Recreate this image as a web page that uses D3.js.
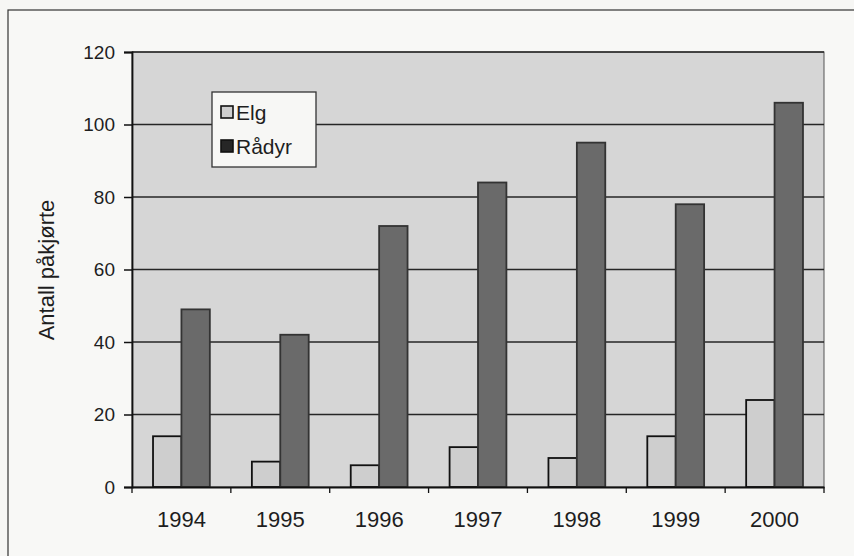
<!DOCTYPE html>
<html>
<head>
<meta charset="utf-8">
<script src="https://cdn.jsdelivr.net/npm/d3@7"></script>
<style>
  body { margin: 0; background: #f6f6f4; }
  svg { display: block; }
  text { font-family: "Liberation Sans", Arial, sans-serif; fill: #1e1e1e; }
</style>
</head>
<body>
<div id="chart"></div>
<script>
// Chart data
const years = ["1994", "1995", "1996", "1997", "1998", "1999", "2000"];
const series = ["Elg", "Rådyr"];
const elg = [14, 7, 6, 11, 8, 14, 24];
const radyr = [49, 42, 72, 84, 95, 78, 106];
const yTicks = [0, 20, 40, 60, 80, 100, 120];

const width = 854, height = 556;
const plot = { left: 132, right: 824, top: 52, bottom: 487 };

const svg = d3.select("#chart").append("svg")
    .attr("width", width)
    .attr("height", height);

// outer frame
svg.append("rect")
    .attr("x", 8).attr("y", 10)
    .attr("width", 852).attr("height", 560)
    .attr("fill", "#f8f8f6")
    .attr("stroke", "#333")
    .attr("stroke-width", 1.2);

const x0 = d3.scaleBand()
    .domain(years)
    .range([plot.left, plot.right]);

const x1 = d3.scaleBand()
    .domain(series)
    .range([0, x0.bandwidth()])
    .paddingOuter(0.74);

const y = d3.scaleLinear()
    .domain([0, 120])
    .range([plot.bottom, plot.top]);

// plot area background
svg.append("rect")
    .attr("x", plot.left).attr("y", plot.top)
    .attr("width", plot.right - plot.left)
    .attr("height", plot.bottom - plot.top)
    .attr("fill", "#d6d6d6")
    .attr("stroke", "#555")
    .attr("stroke-width", 1);

// gridlines
svg.append("g")
    .selectAll("line")
    .data(yTicks.filter(d => d > 0))
    .enter().append("line")
    .attr("x1", plot.left).attr("x2", plot.right)
    .attr("y1", d => y(d)).attr("y2", d => y(d))
    .attr("stroke", "#262626")
    .attr("stroke-width", 1.6);

// bars
const table = years.map((yr, i) => ({ year: yr, values: [
    { key: "Elg", value: elg[i] },
    { key: "Rådyr", value: radyr[i] }
]}));

const fills = { "Elg": "#cecece", "Rådyr": "#6a6a6a" };
const strokes = { "Elg": "#111", "Rådyr": "#333" };

svg.append("g")
    .selectAll("g")
    .data(table)
    .enter().append("g")
    .attr("transform", d => `translate(${x0(d.year)},0)`)
    .selectAll("rect")
    .data(d => d.values)
    .enter().append("rect")
    .attr("x", d => x1(d.key))
    .attr("y", d => y(d.value))
    .attr("width", x1.bandwidth())
    .attr("height", d => y(0) - y(d.value))
    .attr("fill", d => fills[d.key])
    .attr("stroke", d => strokes[d.key])
    .attr("stroke-width", 1.8);

// y axis
const yAxis = d3.axisLeft(y)
    .tickValues(yTicks)
    .tickSize(8)
    .tickPadding(9);

const gy = svg.append("g")
    .attr("transform", `translate(${plot.left},0)`)
    .call(yAxis);
gy.select(".domain").attr("stroke", "#111").attr("stroke-width", 1.8);
gy.selectAll(".tick line").attr("stroke", "#111").attr("stroke-width", 1.5);
gy.selectAll(".tick text")
    .attr("font-size", 19)
    .attr("font-family", "Liberation Sans, Arial, sans-serif")
    .attr("fill", "#1e1e1e");

// x axis
const xAxis = d3.axisBottom(x0)
    .tickSize(0)
    .tickPadding(24);

const gx = svg.append("g")
    .attr("transform", `translate(0,${plot.bottom})`)
    .call(xAxis);
gx.select(".domain").attr("stroke", "#111").attr("stroke-width", 1.8);
gx.selectAll(".tick text")
    .attr("font-size", 22)
    .attr("font-family", "Liberation Sans, Arial, sans-serif")
    .attr("fill", "#1e1e1e");

// category boundary ticks
gx.append("g")
    .selectAll("line")
    .data(years.concat(["end"]))
    .enter().append("line")
    .attr("x1", (d, i) => plot.left + i * x0.step())
    .attr("x2", (d, i) => plot.left + i * x0.step())
    .attr("y1", 0).attr("y2", 6)
    .attr("stroke", "#111")
    .attr("stroke-width", 1.3);

// y axis title
svg.append("text")
    .attr("transform", "translate(54,270) rotate(-90)")
    .attr("text-anchor", "middle")
    .attr("font-size", 22)
    .text("Antall påkjørte");

// legend
const legend = svg.append("g").attr("transform", "translate(212,92)");
legend.append("rect")
    .attr("width", 104).attr("height", 75)
    .attr("fill", "#f7f7f5")
    .attr("stroke", "#333")
    .attr("stroke-width", 1.3);

const legendFills = { "Elg": "#cecece", "Rådyr": "#262626" };
const item = legend.selectAll(".item")
    .data(series)
    .enter().append("g")
    .attr("class", "item")
    .attr("transform", (d, i) => `translate(9,${14 + i * 34})`);

item.append("rect")
    .attr("width", 12).attr("height", 12)
    .attr("fill", d => legendFills[d])
    .attr("stroke", "#111")
    .attr("stroke-width", 1.6);

item.append("text")
    .attr("x", 15).attr("y", 14)
    .attr("font-size", 21)
    .text(d => d);
</script>
</body>
</html>
